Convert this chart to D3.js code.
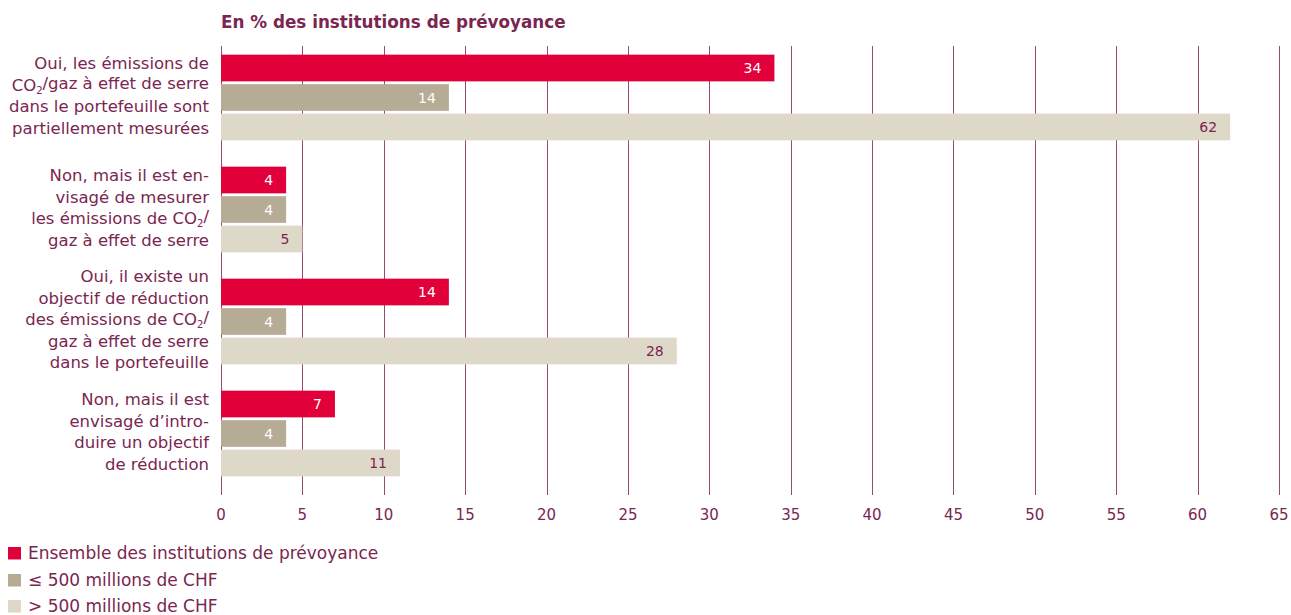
<!DOCTYPE html>
<html><head><meta charset="utf-8">
<script src="https://cdn.jsdelivr.net/npm/d3@7"></script>
<style>
body{margin:0;background:#fff;}
svg{display:block;font-family:"DejaVu Sans",sans-serif;}
</style></head>
<body><svg id="c" width="1291" height="615"></svg>
<script>
// Data
const categories = ["measured","planned_measure","target","planned_target"];
const categoryLabels = [
  [["Oui, les émissions de"],[["CO"],["2",true],["/gaz à effet de serre"]],["dans le portefeuille sont"],["partiellement mesurées"]],
  [["Non, mais il est en-"],["visagé de mesurer"],[["les émissions de CO"],["2",true],["/"]],["gaz à effet de serre"]],
  [["Oui, il existe un"],["objectif de réduction"],[["des émissions de CO"],["2",true],["/"]],["gaz à effet de serre"],["dans le portefeuille"]],
  [["Non, mais il est"],["envisagé d’intro-"],["duire un objectif"],["de réduction"]]
];
const seriesNames = ["Ensemble des institutions de prévoyance","≤ 500 millions de CHF","> 500 millions de CHF"];
const allInstitutions = [34, 4, 14, 7];
const small500 = [14, 4, 4, 4];
const large500 = [62, 5, 28, 11];
const xTicks = [0,5,10,15,20,25,30,35,40,45,50,55,60,65];
const title = "En % des institutions de prévoyance";

const seriesValues = [allInstitutions, small500, large500];
const colors = ["#e2003b","#b6ab95","#ded8c8"];
const labelColors = ["#ffffff","#ffffff","#7a2650"];
const textColor = "#7a2650";
const gridColor = "#994a74";

const svg = d3.select("#c");
const x = d3.scaleLinear().domain([0,65]).range([221,1279]);
const y0 = d3.scaleBand().domain(categories).range([41.5,489.5]).paddingInner(0.235).paddingOuter(0.1175);
const y1 = d3.scaleBand().domain([0,1,2]).range([0,y0.bandwidth()]).paddingInner(0.095);

// gridlines
svg.append("g").selectAll("line").data(xTicks).join("line")
  .attr("x1",d=>Math.round(x(d))+0.5).attr("x2",d=>Math.round(x(d))+0.5)
  .attr("y1",46).attr("y2",495)
  .attr("stroke",gridColor).attr("stroke-width",1);

// axis tick labels
svg.append("g").selectAll("text").data(xTicks).join("text")
  .attr("x",d=>x(d)).attr("y",515).attr("dy","0.36em")
  .attr("text-anchor","middle").attr("fill",textColor).attr("font-size",15)
  .text(d=>d);

// bars
const groups = svg.append("g").selectAll("g").data(categories).join("g")
  .attr("transform",d=>`translate(0,${y0(d)})`);
groups.each(function(cat,ci){
  const g = d3.select(this);
  seriesValues.forEach((vals,si)=>{
    g.append("rect").attr("x",x(0)).attr("y",y1(si))
      .attr("width",x(vals[ci])-x(0)).attr("height",y1.bandwidth())
      .attr("fill",colors[si]);
    g.append("text").attr("x",x(vals[ci])-13).attr("y",y1(si)+y1.bandwidth()/2)
      .attr("dy","0.36em").attr("text-anchor","end").attr("font-size",14)
      .attr("fill",labelColors[si]).text(vals[ci]);
  });
  // category labels
  const lines = categoryLabels[ci];
  const lh = 21.5;
  const cy = y0.bandwidth()/2;
  const startY = cy - (lines.length-1)*lh/2 - 2;
  lines.forEach((ln,li)=>{
    const t = g.append("text").attr("x",209).attr("y",startY+li*lh).attr("dy","0.36em")
      .attr("text-anchor","end").attr("font-size",16.5).attr("fill",textColor);
    const parts = Array.isArray(ln[0]) ? ln : [ln];
    parts.forEach(p=>{
      const ts = t.append("tspan").text(p[0]);
      if(p[1]) ts.attr("font-size",10).attr("dy","0.3em");
      else if (t.selectAll("tspan").size()>1) ts.attr("dy","-0.3em");
    });
  });
});

// title
svg.append("text").attr("x",221).attr("y",22).attr("dy","0.36em")
  .attr("font-weight","bold").attr("font-size",16.8).attr("fill",textColor).text(title);

// legend
const legY = [553,580,606];
const leg = svg.append("g").selectAll("g").data(seriesNames).join("g")
  .attr("transform",(d,i)=>`translate(8,${legY[i]})`);
leg.append("rect").attr("x",0).attr("y",-6).attr("width",13).attr("height",12.5).attr("fill",(d,i)=>colors[i]);
leg.append("text").attr("x",20).attr("y",0).attr("dy","0.36em").attr("font-size",17)
  .attr("fill",textColor).text(d=>d);
</script></body></html>
